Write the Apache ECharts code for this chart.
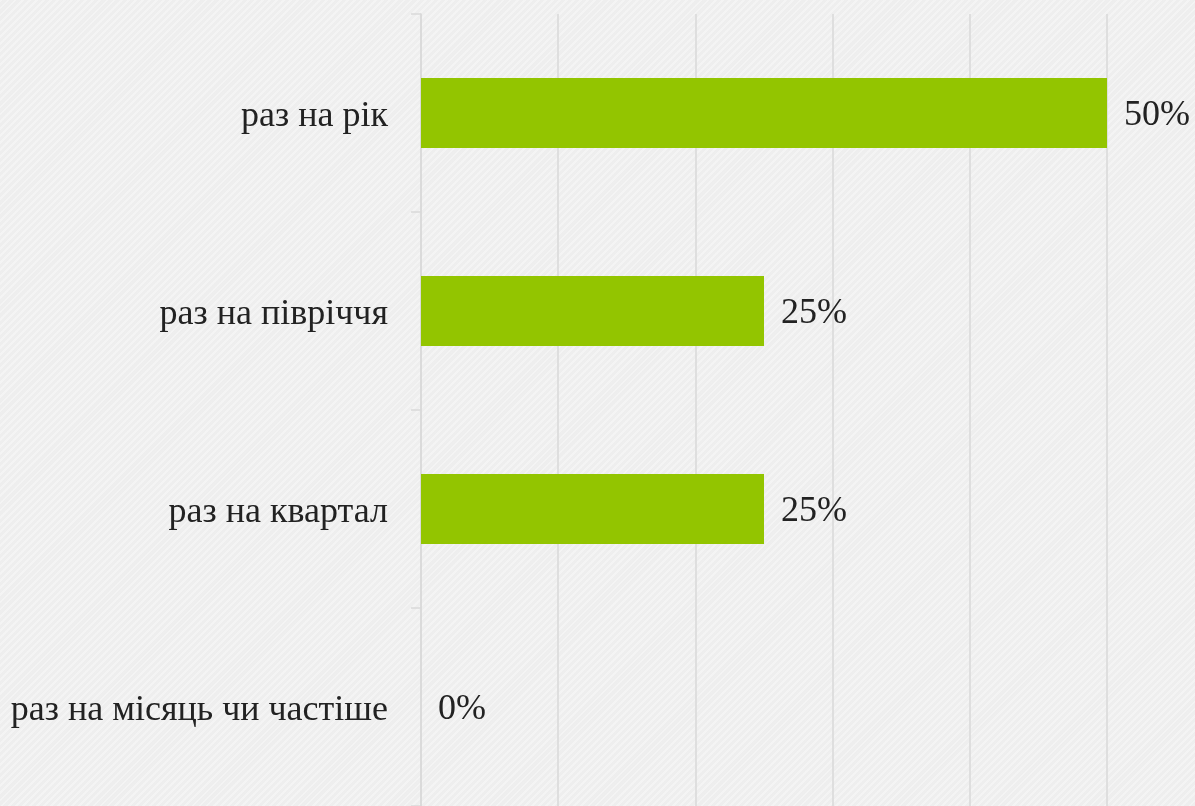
<!DOCTYPE html>
<html>
<head>
<meta charset="utf-8">
<script src="https://cdn.jsdelivr.net/npm/echarts@6/dist/echarts.min.js"></script>
<style>
  html, body { margin: 0; padding: 0; }
  body {
    width: 1195px; height: 806px;
    background-color: #f0f0f0;
    background-image: repeating-linear-gradient(135deg, rgba(255,255,255,0.25) 0px, rgba(255,255,255,0.25) 2px, rgba(0,0,0,0.008) 2px, rgba(0,0,0,0.008) 5px);
  }
  #chart { width: 1195px; height: 806px; }
</style>
</head>
<body>
<div id="chart"></div>
<script>
// категорії (зверху вниз) та значення у відсотках
const categories = ['раз на рік', 'раз на півріччя', 'раз на квартал', 'раз на місяць чи частіше'];
const values = [50, 25, 25, 0];
const axisMax = 50;
const axisStep = 10;

const chart = echarts.init(document.getElementById('chart'));

let option = {
  backgroundColor: 'transparent',
  textStyle: { fontFamily: '"Liberation Serif", "DejaVu Serif", serif' },
  grid: { left: 421, width: 686, top: 14, height: 796 },
  xAxis: {
    type: 'value',
    min: 0,
    max: axisMax,
    interval: axisStep,
    axisLabel: { show: false },
    axisLine: { show: false },
    axisTick: { show: false },
    splitLine: { lineStyle: { color: '#d9d9d9', width: 1.5 } }
  },
  yAxis: {
    type: 'category',
    inverse: true,
    data: categories,
    axisLine: { show: true, lineStyle: { color: '#d9d9d9', width: 1.5 } },
    axisTick: { show: true, length: 10, lineStyle: { color: '#d9d9d9', width: 1.5 } },
    axisLabel: {
      margin: 33, fontSize: 36, color: '#222222',
      formatter: function (v) { return '{t|' + v + '}'; },
      rich: { t: { fontSize: 36, color: '#222222', padding: [8, 0, 0, 0], fontFamily: '"Liberation Serif", serif' } }
    }
  },
  series: [
    {
      type: 'bar',
      data: values,
      barWidth: 70,
      itemStyle: { color: '#93c500' },
      label: {
        show: true,
        position: 'right',
        distance: 17,
        offset: [0, 3],
        formatter: '{c}%',
        fontSize: 36,
        color: '#222222',
        fontFamily: '"Liberation Serif", serif'
      },
      silent: true
    }
  ],
  animation: false
};

chart.setOption(option);
</script>
</body>
</html>
